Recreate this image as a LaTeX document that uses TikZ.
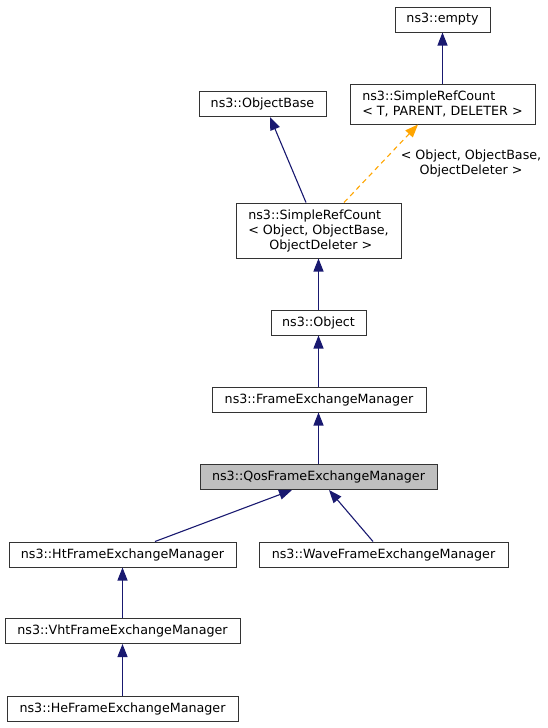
\documentclass[tikz,border=0pt]{standalone}
\usepackage{fontspec}
\setmainfont{DejaVu Sans}
\usetikzlibrary{arrows.meta,calc}
\definecolor{edgeblue}{HTML}{191970}
\definecolor{tplorange}{HTML}{FFA500}
\definecolor{boxgray}{HTML}{BFBFBF}
\begin{document}
\begin{tikzpicture}[x=1pt,y=-1pt,
  cls/.style={draw=black!80,line width=1pt,fill=white,inner sep=0pt,minimum height=25pt,
    font=\fontsize{12.7}{15}\selectfont,align=left},
  cur/.style={cls,fill=boxgray},
  inh/.style={edgeblue,line width=1.1pt,-{Triangle[width=10pt,length=13pt]}},
  tpl/.style={tplorange,line width=1.1pt,dash pattern=on 5pt off 4pt,-{Triangle[width=10pt,length=13pt]}},
  lbl/.style={font=\fontsize{12.7}{15}\selectfont,align=center,inner sep=0pt}]
\useasboundingbox (0,0) rectangle (548,728);
\node[cls,minimum width=95pt] (empty) at (442.5,19.5) {ns3::empty};
\node[cls,minimum width=185pt,minimum height=40pt] (srcT) at (442.5,104) {ns3::SimpleRefCount\\< T, PARENT, DELETER >};
\node[cls,minimum width=127pt] (objbase) at (262.5,104) {ns3::ObjectBase};
\node[cls,minimum width=165pt,minimum height=55pt] (srcO) at (318.5,230.5) {ns3::SimpleRefCount\\< Object, ObjectBase,\\\hspace*{21pt}ObjectDeleter >};
\node[cls,minimum width=95pt] (object) at (318.5,322.5) {ns3::Object};
\node[cls,minimum width=214pt] (fem) at (319,399.5) {ns3::FrameExchangeManager};
\node[cur,minimum width=237pt] (qos) at (318.5,477) {ns3::QosFrameExchangeManager};
\node[cls,minimum width=227pt] (ht) at (122.5,554.5) {ns3::HtFrameExchangeManager};
\node[cls,minimum width=249pt] (wave) at (383.5,554.5) {ns3::WaveFrameExchangeManager};
\node[cls,minimum width=235pt] (vht) at (122.5,631) {ns3::VhtFrameExchangeManager};
\node[cls,minimum width=231pt] (he) at (122.5,708.5) {ns3::HeFrameExchangeManager};

\draw[inh] (srcT.north) -- (empty.south);
\draw[inh] ($(srcO.north)+(-12.5,0)$) -- ($(objbase.south)+(7.5,0)$);
\draw[tpl] ($(srcO.north)+(25.5,0)$) -- ($(srcT.south)+(-24.5,0)$);
\node[lbl] (tpllbl) at (471,163.5) {< Object, ObjectBase,\\ObjectDeleter >};
\draw[inh] (object.north) -- (srcO.south);
\draw[inh] (fem.north -| object.north) -- (object.south);
\draw[inh] (qos.north) -- (qos.north |- fem.south);
\draw[inh] ($(ht.north)+(32.5,0)$) -- ($(qos.south)+(-26.5,0)$);
\draw[inh] ($(wave.north)+(-10.5,0)$) -- ($(qos.south)+(10.5,0)$);
\draw[inh] (vht.north) -- (ht.south);
\draw[inh] (he.north) -- (vht.south);
\end{tikzpicture}
\end{document}
